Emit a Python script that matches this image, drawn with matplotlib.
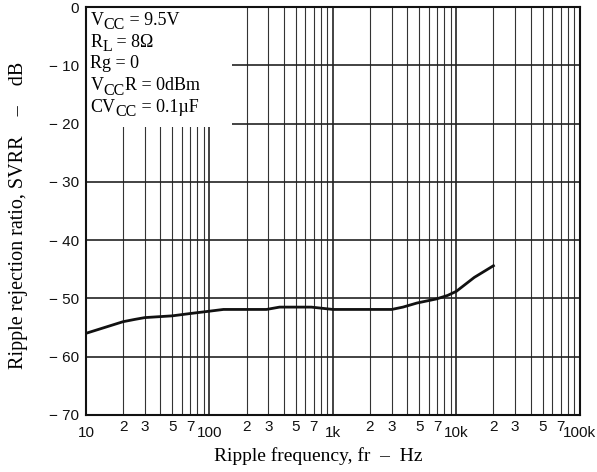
import matplotlib.pyplot as plt
from matplotlib.patches import Rectangle
from matplotlib.ticker import FixedLocator, FixedFormatter

# curve
freq = [10, 20, 25, 30, 50, 70, 100, 130, 200, 290, 370, 670, 1000, 3000,
        3700, 4800, 6900, 8500, 10000, 14000, 20000]
svrr = [-56.0, -54.0, -53.6, -53.3, -53.0, -52.6, -52.2, -51.9, -51.9, -51.9,
        -51.5, -51.5, -51.9, -51.9, -51.5, -50.8, -50.1, -49.5, -48.8, -46.4,
        -44.4]

decades = [10, 100, 1000, 10000, 100000]
decade_labels = ['10', '100', '1k', '10k', '100k']
minor_pos = [m * d for d in decades[:-1] for m in range(2, 10)]
minor_labels = [str(m) if m in (2, 3, 5, 7) else '' for d in decades[:-1] for m in range(2, 10)]
yticks = [0, -10, -20, -30, -40, -50, -60, -70]
ytick_labels = ['0'] + ['\u2212 %d' % (-v) for v in yticks[1:]]

# each condition line as (text, is_subscript) pieces
conditions = [
    [('V', False), ('CC', True), (' = 9.5V', False)],
    [('R', False), ('L', True), (' = 8\u03a9', False)],
    [('Rg = 0', False)],
    [('V', False), ('CC', True), ('R = 0dBm', False)],
    [('CV', False), ('CC', True), (' = 0.1\u00b5F', False)],
]

fig = plt.figure(figsize=(5.97, 4.72), dpi=100)
ax = fig.add_axes([0.144, 0.121, 0.827, 0.864])

ax.plot(freq, svrr, color='#111111', lw=2.0, zorder=3)

ax.set_xscale('log')
ax.set_xlim(10, 100000)
ax.set_ylim(-70, 0)

ax.xaxis.set_major_locator(FixedLocator(decades))
ax.xaxis.set_major_formatter(FixedFormatter(decade_labels))
ax.xaxis.set_minor_locator(FixedLocator(minor_pos))
ax.xaxis.set_minor_formatter(FixedFormatter(minor_labels))
ax.set_yticks(yticks)
ax.set_yticklabels(ytick_labels)

ax.tick_params(which='both', length=0, labelsize=11, labelfontfamily='Liberation Sans', colors='#111111')
ax.tick_params(axis='x', which='major', pad=8)
ax.tick_params(axis='x', which='minor', pad=4)
ax.tick_params(axis='y', pad=5)

ax.grid(True, which='major', color='#222222', lw=1.2)
ax.grid(True, which='minor', color='#333333', lw=0.8)
ax.set_axisbelow(True)
for s in ax.spines.values():
    s.set_linewidth(1.5)
    s.set_color('#111111')

ax.add_patch(Rectangle((0, 0.705), 0.296, 0.295, transform=ax.transAxes,
                       facecolor='white', edgecolor='none', zorder=1.5))

for i, pieces in enumerate(conditions):
    first = ax.text(0.009, 0.956 - i * 0.0533, pieces[0][0], transform=ax.transAxes,
                    va='baseline', ha='left', fontsize=13, family='Liberation Serif', zorder=4)
    prev = first
    for txt, sub in pieces[1:]:
        prev = ax.annotate(txt, xy=(1, 0), xycoords=(prev, first),
                           xytext=(0, -3.2 if sub else 0), textcoords='offset points',
                           va='bottom', ha='left', fontsize=11.5 if sub else 13,
                           family='Liberation Serif', zorder=4)

ax.set_xlabel('Ripple frequency, fr  \u2013  Hz', family='Liberation Serif', fontsize=14)
ax.xaxis.set_label_coords(0.47, -0.078)
ax.set_ylabel('Ripple rejection ratio, SVRR    \u2013    dB', family='Liberation Serif', fontsize=14.5)
ax.yaxis.set_label_coords(-0.118, 0.49)

fig.savefig('out.png', dpi=100)
